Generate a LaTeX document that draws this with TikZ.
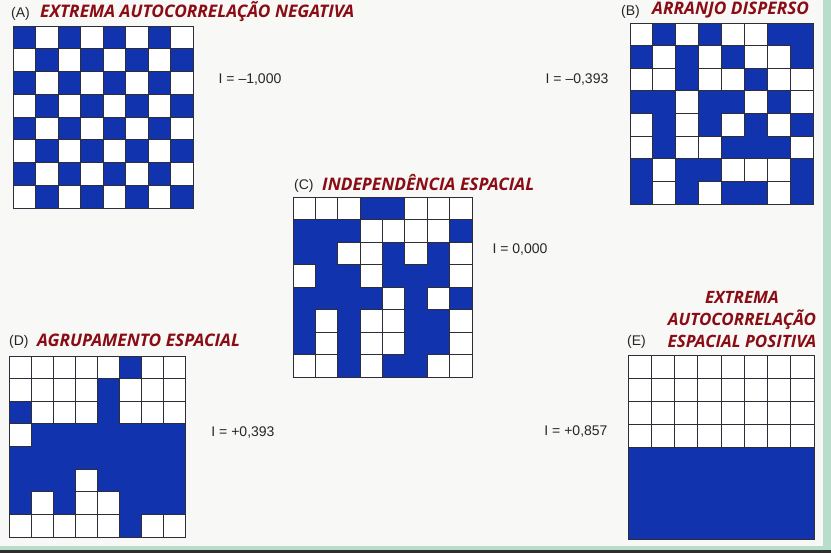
\documentclass[tikz,border=0pt]{standalone}
\usepackage{fontspec}
\setmainfont{Liberation Sans}
\newfontfamily\titlefont{Open Sans}
\usetikzlibrary{positioning}
\definecolor{cellblue}{HTML}{1233AE}
\definecolor{titlered}{HTML}{8A0C14}
\definecolor{gridgray}{HTML}{2E2E38}
\definecolor{paperwhite}{HTML}{F8F8F6}
\definecolor{edgegreen}{HTML}{B9DDCB}
\definecolor{edgedark}{HTML}{2A2E2C}
\tikzset{
  paneltitle/.style={font=\titlefont\bfseries\itshape\fontsize{17.3}{19}\selectfont, text=titlered, inner sep=0pt, anchor=west},
  tag/.style={font=\fontsize{14}{16}\selectfont, text=black!85, inner sep=0pt, anchor=west},
  moran/.style={font=\fontsize{14}{16}\selectfont, text=black!85, inner sep=0pt},
  whitecell/.style={fill=white, draw=gridgray, line width=0.8pt},
  gridframe/.style={draw=gridgray, line width=0.9pt}
}
% #1 left, #2 top, #3 right, #4 bottom, #5 rows (1 = blue)
\newcommand{\cellgrid}[5]{
  \fill[cellblue] (#1,#2) rectangle (#3,#4);
  \foreach \row [count=\r from 0] in {#5} {
    \foreach \v [count=\c from 0] in \row {
      \ifnum\v=0
        \filldraw[whitecell] ({#1+\c*(#3-#1)/8},{#2+\r*(#4-#2)/8}) rectangle ({#1+(\c+1)*(#3-#1)/8},{#2+(\r+1)*(#4-#2)/8});
      \fi
    }
  }
  \draw[gridframe] (#1,#2) rectangle (#3,#4);
}

\begin{document}
\begin{tikzpicture}[x=1pt,y=-1pt]
\useasboundingbox (0,0) rectangle (831,553);
\fill[paperwhite] (0,0) rectangle (831,553);
\fill[edgegreen] (823,0) rectangle (831,553);
\fill[edgegreen] (0,546) rectangle (831,550);
\fill[edgedark] (0,550) rectangle (831,553);

% (A) checkerboard
\cellgrid{13}{26}{193}{208}{{1,0,1,0,1,0,1,0},{0,1,0,1,0,1,0,1},{1,0,1,0,1,0,1,0},{0,1,0,1,0,1,0,1},
  {1,0,1,0,1,0,1,0},{0,1,0,1,0,1,0,1},{1,0,1,0,1,0,1,0},{0,1,0,1,0,1,0,1}}
\node[tag] (tagA) at (11,14) {(A)};
\node[paneltitle] (titleA) at (40,12) {EXTREMA AUTOCORRELAÇÃO NEGATIVA};
\node[moran] (moranA) at (250,80) {I = –1,000};

% (B) dispersed
\cellgrid{630}{23}{813}{204}{{0,1,0,1,0,0,1,1},{1,0,1,0,1,0,0,1},{0,0,1,0,0,1,0,0},{1,1,0,1,1,0,1,0},
  {0,1,0,1,0,1,0,1},{0,1,0,0,1,1,1,0},{1,0,1,1,0,0,0,1},{1,0,1,0,1,1,0,1}}
\node[tag] (tagB) at (621,12) {(B)};
\node[paneltitle] (titleB) at (652,10) {ARRANJO DISPERSO};
\node[moran] (moranB) at (577,80) {I = –0,393};

% (C) random
\cellgrid{293}{197}{472}{377}{{0,0,0,1,1,0,0,0},{1,1,1,0,0,0,0,1},{1,1,0,0,1,0,1,0},{0,1,1,0,1,1,1,0},
  {1,1,1,1,0,1,0,1},{1,0,1,0,0,1,1,0},{1,0,1,0,0,1,1,0},{0,0,1,0,1,1,0,0}}
\node[tag] (tagC) at (294,186) {(C)};
\node[paneltitle] (titleC) at (322,183) {INDEPENDÊNCIA ESPACIAL};
\node[moran] (moranC) at (520,250) {I = 0,000};

% (D) clustered
\cellgrid{9}{356}{185}{537}{{0,0,0,0,0,1,0,0},{0,0,0,0,1,0,0,0},{1,0,0,0,1,0,0,0},{0,1,1,1,1,1,1,1},
  {1,1,1,1,1,1,1,1},{1,1,1,0,1,1,1,1},{1,0,1,0,0,1,1,1},{0,0,0,0,0,1,0,0}}
\node[tag] (tagD) at (9,342) {(D)};
\node[paneltitle] (titleD) at (37,340) {AGRUPAMENTO ESPACIAL};
\node[moran] (moranD) at (243,433) {I = +0,393};

% (E) split halves
\cellgrid{628}{355}{814}{539}{{0,0,0,0,0,0,0,0},{0,0,0,0,0,0,0,0},{0,0,0,0,0,0,0,0},{0,0,0,0,0,0,0,0},
  {1,1,1,1,1,1,1,1},{1,1,1,1,1,1,1,1},{1,1,1,1,1,1,1,1},{1,1,1,1,1,1,1,1}}
\node[tag] (tagE) at (627,342) {(E)};
\node[paneltitle, anchor=center, align=center, font=\titlefont\bfseries\itshape\fontsize{17}{22}\selectfont] (titleE) at (742,319) {EXTREMA\\AUTOCORRELAÇÃO\\ESPACIAL POSITIVA};
\node[moran] (moranE) at (576,432) {I = +0,857};
\end{tikzpicture}
\end{document}
